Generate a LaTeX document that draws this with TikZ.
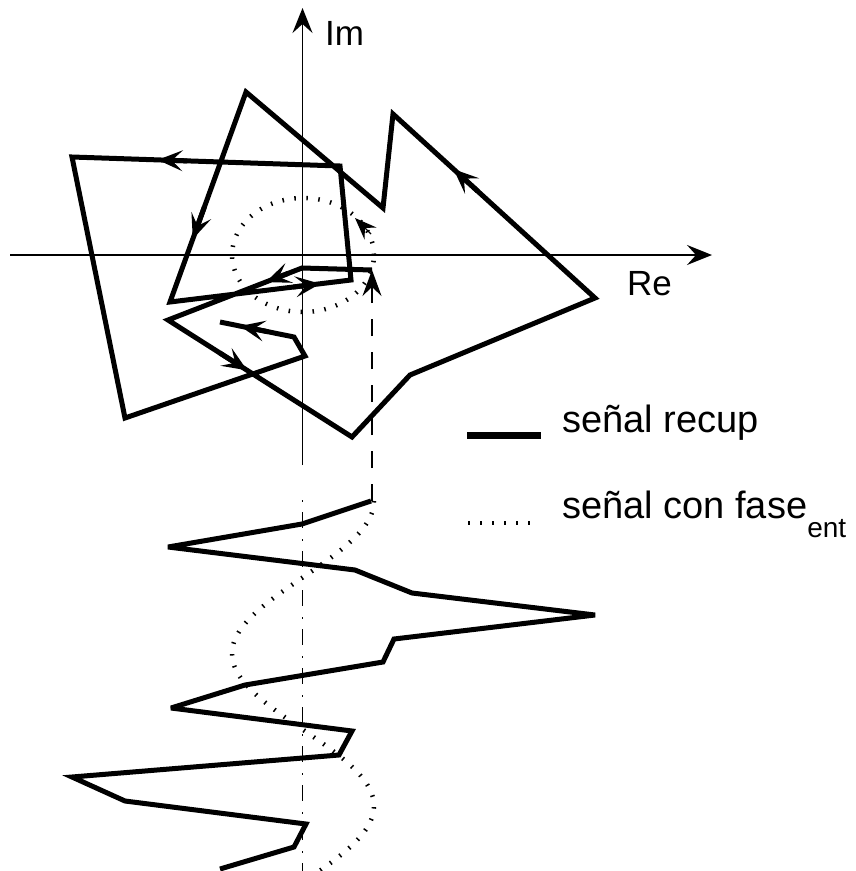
\documentclass[tikz,border=0pt]{standalone}
\usepackage{fontspec}
\setmainfont{Liberation Sans}
\usetikzlibrary{arrows.meta,calc}
\begin{document}
\begin{tikzpicture}[x=1pt,y=-1pt,
  sig/.style={line width=5pt, line join=miter, miter limit=4},
  axis/.style={line width=1.6pt},
  midtip/.style={-{Stealth[length=25pt,width=21pt,inset=11pt,line width=1.5pt]}, line width=5pt},
  phase/.style={line width=4.5pt, dash pattern=on 1.5pt off 10.5pt},
  lbl/.style={font=\fontsize{35}{40}\selectfont, inner sep=0pt, anchor=base west},
  leg/.style={font=\fontsize{38}{44}\selectfont, inner sep=0pt, anchor=base west}]
\useasboundingbox (0,0) rectangle (855,871);

% axes
\coordinate (vb) at (302.5,465);
\coordinate (vt) at (302.5,8);
\coordinate (hl) at (10,255);
\coordinate (hr) at (712,255);
\draw[axis, -{Stealth[length=25pt,width=20pt,inset=9pt]}] (vb) -- (vt);
\draw[axis, -{Stealth[length=25pt,width=20pt,inset=9pt]}] (hl) -- (hr);
\node[lbl] (im) at (325,45) {Im};
\node[lbl] (re) at (627,295) {Re};

% dotted phasor circle
\draw[phase] (303,255) ellipse [x radius=71pt, y radius=57pt];
\coordinate (pa) at (371,234);
\coordinate (pb) at (355,218);
\draw[-{Stealth[length=22pt,width=17pt,inset=8pt]}, line width=1.2pt] (pa) -- (pb);

% recovered signal in complex plane
\coordinate (c0) at (372,270);
\coordinate (c1) at (302,268);
\coordinate (c2) at (168,320);
\coordinate (c3) at (352,437);
\coordinate (c4) at (410,375);
\coordinate (c5) at (595,298);
\coordinate (c6) at (393,114);
\coordinate (c7) at (383,208);
\coordinate (c8) at (246,92);
\coordinate (c9) at (170,302);
\coordinate (c10) at (351,280);
\coordinate (c11) at (340,166);
\coordinate (c12) at (72,157);
\coordinate (c13) at (125,418);
\coordinate (c14) at (305,356);
\coordinate (c15) at (294,337);
\coordinate (c16) at (220,322);
\draw[sig] (c0) -- (c1) -- (c2) -- (c3) -- (c4) -- (c5) -- (c6) -- (c7) -- (c8)
  -- (c9) -- (c10) -- (c11) -- (c12) -- (c13) -- (c14) -- (c15) -- (c16);

% direction arrows
\draw[midtip] ($(c1)!0.10!(c2)$) -- ($(c1)!0.27!(c2)$);
\draw[midtip] ($(c2)!0.28!(c3)$) -- ($(c2)!0.43!(c3)$);
\draw[midtip] ($(c5)!0.58!(c6)$) -- ($(c5)!0.70!(c6)$);
\draw[midtip] ($(c8)!0.55!(c9)$) -- ($(c8)!0.70!(c9)$);
\draw[midtip] ($(c9)!0.68!(c10)$) -- ($(c9)!0.83!(c10)$);
\draw[midtip] ($(c11)!0.57!(c12)$) -- ($(c11)!0.68!(c12)$);
\draw[midtip] ($(c15)!0.35!(c16)$) -- ($(c15)!0.73!(c16)$);

% dashed projection line
\coordinate (dd) at (372,501);
\draw[line width=1.4pt, dash pattern=on 17pt off 16pt,
  -{Stealth[length=26pt,width=19pt,inset=9pt]}] (dd) -- (c0);

% time axis (dash-dot)
\coordinate (ta) at (302.5,500);
\coordinate (tb) at (302.5,871);
\draw[line width=1.7pt, dash pattern=on 2pt off 10pt on 16pt off 11pt] (ta) -- (tb);

% dotted reference sinusoid (parameter = phase angle in degrees)
\draw[phase] plot[domain=0:437, samples=160] ({303+71*cos(\x)}, {501+0.84722*\x});

% real part of recovered signal vs time
\coordinate (t0) at (371,501);
\coordinate (t1) at (302,524);
\coordinate (t2) at (168,547);
\coordinate (t3) at (355,570);
\coordinate (t4) at (412,593);
\coordinate (t5) at (595,615);
\coordinate (t6) at (394,639);
\coordinate (t7) at (383,662);
\coordinate (t8) at (245,685);
\coordinate (t9) at (171,708);
\coordinate (t10) at (352,731);
\coordinate (t11) at (339,755);
\coordinate (t12) at (72,777);
\coordinate (t13) at (125,801);
\coordinate (t14) at (306,824);
\coordinate (t15) at (294,847);
\coordinate (t16) at (220,869);
\draw[sig] (t0) -- (t1) -- (t2) -- (t3) -- (t4) -- (t5) -- (t6) -- (t7) -- (t8)
  -- (t9) -- (t10) -- (t11) -- (t12) -- (t13) -- (t14) -- (t15) -- (t16);

% legend
\coordinate (la) at (467,435);
\coordinate (lb) at (541,435);
\draw[line width=7pt] (la) -- (lb);
\coordinate (lc) at (468,523);
\coordinate (ld) at (535,523);
\draw[phase] (lc) -- (ld);
\node[leg] (l1) at (562,432) {señal recup};
\node[leg] (l2) at (562,518) {señal con fase\raisebox{-19pt}{\fontsize{28}{30}\selectfont ent}};
\end{tikzpicture}
\end{document}
